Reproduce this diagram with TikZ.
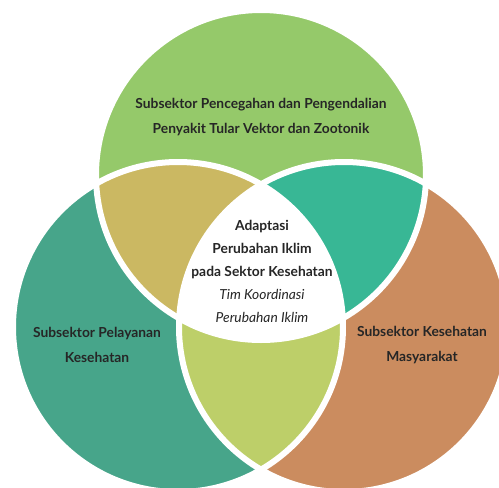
\documentclass[tikz,border=0pt]{standalone}
\usepackage{fontspec}
\setmainfont{Lato}
\begin{document}
\begin{tikzpicture}[x=1pt,y=-1pt,
  lbl/.style={align=center,text=black!85,font=\bfseries\fontsize{13.8}{25}\selectfont},
  ctr/.style={align=center,text=black!85,font=\fontsize{13.8}{23}\selectfont},
  gap/.style={draw=white,line width=6pt}]
\definecolor{cTop}{HTML}{95C96A}
\definecolor{cLeft}{HTML}{47A58A}
\definecolor{cRight}{HTML}{CB8C5F}
\definecolor{cTL}{HTML}{CBB862}
\definecolor{cTR}{HTML}{38B795}
\definecolor{cLR}{HTML}{BDCF69}
\useasboundingbox (0,0) rectangle (499,488);
\clip (0,0) rectangle (499,488);
\coordinate (T) at (261,175);
\coordinate (L) at (178,327);
\coordinate (R) at (344,327);
\def\rr{165pt}
\fill[cTop] (T) circle (\rr);
\fill[cLeft] (L) circle (\rr);
\fill[cRight] (R) circle (\rr);
\begin{scope}\clip (T) circle (\rr); \fill[cTL] (L) circle (\rr);\end{scope}
\begin{scope}\clip (T) circle (\rr); \fill[cTR] (R) circle (\rr);\end{scope}
\begin{scope}\clip (L) circle (\rr); \fill[cLR] (R) circle (\rr);\end{scope}
\begin{scope}\clip (T) circle (\rr); \clip (L) circle (\rr); \fill[white] (R) circle (\rr);\end{scope}
\draw[gap] (T) circle (\rr);
\draw[gap] (L) circle (\rr);
\draw[gap] (R) circle (\rr);
\node[lbl] (top) at (261,117.5) {Subsektor Pencegahan dan Pengendalian\\Penyakit Tular Vektor dan Zootonik};
\node[lbl] (left) at (97,345) {Subsektor Pelayanan\\Kesehatan};
\node[lbl] (right) at (422,345) {Subsektor Kesehatan\\Masyarakat};
\node[ctr] (center) at (262,271) {\textbf{Adaptasi}\\\textbf{Perubahan Iklim}\\\textbf{pada Sektor Kesehatan}\\\textit{Tim Koordinasi}\\\textit{Perubahan Iklim}};
\end{tikzpicture}
\end{document}
